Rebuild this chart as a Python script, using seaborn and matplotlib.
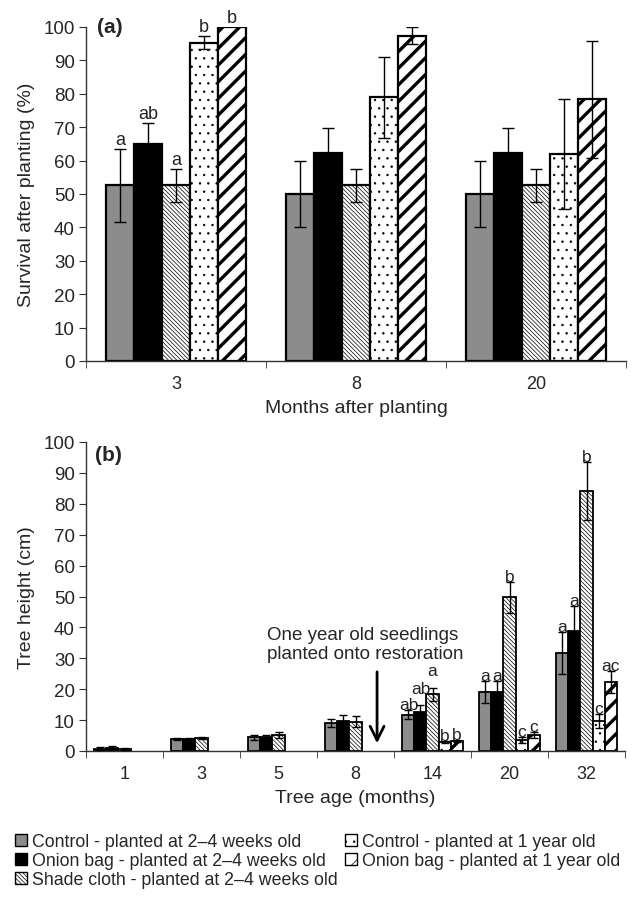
import numpy as np
import pandas as pd
import matplotlib
matplotlib.use('Agg')
import matplotlib.pyplot as plt
import seaborn as sns
from matplotlib.patches import Patch

treatments = ['Control - planted at 2–4 weeks old',
              'Onion bag - planted at 2–4 weeks old',
              'Shade cloth - planted at 2–4 weeks old',
              'Control - planted at 1 year old',
              'Onion bag - planted at 1 year old']

# (a) survival after planting (%)
months_a = ['3', '8', '20']
surv_c24 = [52.6, 50.0, 50.0]
surv_o24 = [65.0, 62.3, 62.3]
surv_s24 = [52.6, 52.6, 52.6]
surv_c1 = [95.3, 78.9, 62.0]
surv_o1 = [100.0, 97.4, 78.4]
err_c24 = [11.0, 10.0, 10.0]
err_o24 = [6.3, 7.5, 7.5]
err_s24 = [5.0, 5.0, 5.0]
err_c1 = [2.0, 12.0, 16.5]
err_o1 = [0.0, 2.5, 17.5]
let_a = [['a', '', ''], ['ab', '', ''], ['a', '', ''], ['b', '', ''], ['b', '', '']]

# (b) tree height (cm)
ages_b = ['1', '3', '5', '8', '14', '20', '32']
h_c24 = [0.8, 3.8, 4.5, 9.2, 11.7, 19.0, 31.7]
h_o24 = [1.0, 3.8, 4.6, 9.8, 12.6, 19.0, 38.8]
h_s24 = [0.6, 4.2, 5.2, 9.5, 18.3, 49.8, 84.2]
h_c1 = [None, None, None, None, 2.9, 3.6, 9.7]
h_o1 = [None, None, None, None, 3.2, 5.2, 22.3]
he_c24 = [0.5, 0.3, 0.8, 1.3, 1.5, 3.6, 6.8]
he_o24 = [0.5, 0.3, 0.5, 1.9, 2.2, 3.6, 8.2]
he_s24 = [0.4, 0.3, 0.9, 1.7, 2.0, 5.0, 9.3]
he_c1 = [None, None, None, None, 0.4, 1.0, 2.2]
he_o1 = [None, None, None, None, 0.4, 0.9, 3.6]
let_b = [['', '', '', '', 'ab', 'a', 'a'],
         ['', '', '', '', 'ab', 'a', 'a'],
         ['', '', '', '', 'a', 'b', 'b'],
         ['', '', '', '', 'b', 'c', 'c'],
         ['', '', '', '', 'b', 'c', 'ac']]
# letters that sit higher than their error bar in the original (treatment, age): height
let_b_raise = {(1, '14'): 18.8, (2, '14'): 24.5}

styles = [dict(face='#8c8c8c', hatch='', hlw=0.5),
          dict(face='black', hatch='', hlw=0.5),
          dict(face='white', hatch='\\' * 8, hlw=0.5),
          dict(face='white', hatch='..', hlw=0.5),
          dict(face='white', hatch='//', hlw=2.4)]


def long_df(cats, vals, errs, lets):
    rows = []
    for i, (trt, v, e, l) in enumerate(zip(treatments, vals, errs, lets)):
        for c, vv, ee, ll in zip(cats, v, e, l):
            if vv is None:
                continue
            rows.append(dict(cat=c, trt=trt, idx=i, val=vv, err=ee, letter=ll))
    return pd.DataFrame(rows)


df_a = long_df(months_a, [surv_c24, surv_o24, surv_s24, surv_c1, surv_o1],
               [err_c24, err_o24, err_s24, err_c1, err_o1], let_a)
df_b = long_df(ages_b, [h_c24, h_o24, h_s24, h_c1, h_o1],
               [he_c24, he_o24, he_s24, he_c1, he_o1], let_b)


def style_patch(p, st):
    p.set_facecolor(st['face'])
    p.set_edgecolor('black')
    p.set_hatch(st['hatch'])
    if hasattr(p, 'set_hatch_linewidth'):
        p.set_hatch_linewidth(st['hlw'])


def draw_panel(ax, df, order, capsize, lift, lw, fs, raise_map=None):
    raise_map = raise_map or {}
    sns.barplot(data=df, x='cat', y='val', hue='trt', order=order, hue_order=treatments,
                width=0.78, errorbar=None, palette=[s['face'] for s in styles],
                saturation=1, edgecolor='black', linewidth=lw, legend=False, ax=ax)
    for cont, trt, st in zip(ax.containers, treatments, styles):
        sub = df[df.trt == trt].set_index('cat').reindex(order).dropna(subset=['val'])
        for bar, (cat, row) in zip(cont, sub.iterrows()):
            style_patch(bar, st)
            cx = bar.get_x() + bar.get_width() / 2
            if row.err > 0:
                ax.errorbar(cx, row.val, yerr=row.err, fmt='none', ecolor='black',
                            elinewidth=1, capsize=capsize, capthick=1, zorder=5)
            if row.letter:
                ty = raise_map.get((int(row.idx), cat), row.val + row.err + lift)
                ax.text(cx, ty, row.letter, ha='center',
                        va='baseline', fontsize=fs, color='#222222')
    n = len(order)
    ax.set_xlim(-0.5, n - 0.5)
    ax.set_ylim(0, 100)
    ax.set_yticks(np.arange(0, 101, 10))
    ax.set_xticks(np.arange(-0.5, n), minor=True)
    ax.tick_params(axis='x', which='major', length=0, pad=10, labelsize=13)
    ax.tick_params(axis='x', which='minor', length=5, direction='out', color='#333333')
    ax.tick_params(axis='y', length=5, direction='out', labelsize=13.5, pad=3, color='#333333')
    for s in ['left', 'bottom']:
        ax.spines[s].set_color('#333333')
        ax.spines[s].set_linewidth(1)
    sns.despine(ax=ax)


sns.set_style('ticks')
plt.rcParams['font.family'] = ['Liberation Sans', 'DejaVu Sans']
plt.rcParams['hatch.linewidth'] = 0.5

fig = plt.figure(figsize=(6.36, 9.04), dpi=100)
ax1 = fig.add_axes([86 / 636, 1 - 362 / 904, 540 / 636, 334 / 904])
ax2 = fig.add_axes([86 / 636, 1 - 752 / 904, 539 / 636, 309 / 904])

draw_panel(ax1, df_a, months_a, 4, 1.5, 1.6, 13)
ax1.set_xlabel('Months after planting', fontsize=14, labelpad=5)
ax1.set_ylabel('Survival after planting (%)', fontsize=14, labelpad=6)
ax1.text(0.02, 1.0, '(a)', transform=ax1.transAxes, fontsize=15, fontweight='bold', va='center')

draw_panel(ax2, df_b, ages_b, 3, 0.3, 1.3, 12.5, let_b_raise)
ax2.set_xlabel('Tree age (months)', fontsize=14, labelpad=5)
ax2.set_ylabel('Tree height (cm)', fontsize=14, labelpad=6)
ax2.text(0.017, 0.96, '(b)', transform=ax2.transAxes, fontsize=15, fontweight='bold', va='center')
ax2.text(1.85, 34.6, 'One year old seedlings\nplanted onto restoration', fontsize=13.5,
         ha='left', va='center', linespacing=1.15)
ax2.annotate('', xy=(3.28, 1.6), xytext=(3.28, 26.5),
             arrowprops=dict(arrowstyle='->,head_length=1.0,head_width=0.5', lw=2, color='black'))

handles = []
for st in styles:
    h = Patch(facecolor=st['face'], edgecolor='black', hatch=st['hatch'], linewidth=1)
    if hasattr(h, 'set_hatch_linewidth'):
        h.set_hatch_linewidth(min(st['hlw'], 1.2))
    handles.append(h)
fig.legend(handles, treatments, ncol=2, loc='upper left', bbox_to_anchor=(15 / 636, 1 - 834 / 904),
           frameon=False, fontsize=12.8, handlelength=0.7, handleheight=0.7, handletextpad=0.25,
           columnspacing=0.4, labelspacing=0.12, borderpad=0, borderaxespad=0)

fig.savefig('out.png', dpi=100)
